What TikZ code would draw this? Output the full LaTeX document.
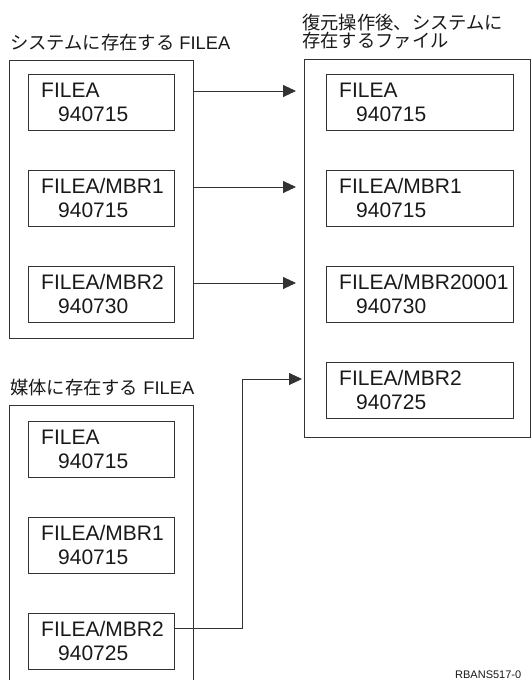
\documentclass[tikz,border=0pt]{standalone}
\usepackage{fontspec}
\setmainfont{Liberation Sans}
\newfontfamily\jp{Noto Sans CJK JP}
\usetikzlibrary{arrows.meta}
\tikzset{
  ln/.style={draw=black!80, line width=0.9pt},
  outerbox/.style={ln, rectangle, anchor=north west, inner sep=0pt},
  filebox/.style={ln, rectangle, anchor=north west, inner sep=0pt, minimum height=56pt},
  lbox/.style={filebox, minimum width=146pt},
  rbox/.style={filebox, minimum width=187pt},
  ftext/.style={anchor=base west, inner sep=0pt, font=\fontsize{21pt}{24pt}\selectfont, text=black!90},
  lbl/.style={anchor=base west, inner sep=0pt, font=\fontsize{18.3pt}{22pt}\selectfont, text=black!90},
  arr/.style={ln, -{Triangle[length=13pt,width=12pt]}},
}
\begin{document}
\begin{tikzpicture}[x=1pt,y=-1pt]
\useasboundingbox (0,0) rectangle (531,680);
\clip (0,0) rectangle (531,680);
% labels
\node[lbl] (lab1) at (10,49.5) {{\jp システムに存在する} FILEA};
\node[lbl] (lab2a) at (302,29) {\jp 復元操作後、システムに};
\node[lbl] (lab2b) at (302,47) {\jp 存在するファイル};
\node[lbl] (lab3) at (10,394) {{\jp 媒体に存在する} FILEA};
% outer boxes
\node[outerbox, minimum width=184pt, minimum height=278pt] (sys) at (9,60) {};
\node[outerbox, minimum width=226pt, minimum height=378pt] (res) at (304,59) {};
\draw[ln] (9,700) -- (9,405) -- (193,405) -- (193,700);
% left system boxes
\node[lbox] (s1) at (28,74) {};
\node[lbox] (s2) at (28,170) {};
\node[lbox] (s3) at (28,266) {};
% right boxes
\node[rbox] (r1) at (326,74) {};
\node[rbox] (r2) at (326,170) {};
\node[rbox] (r3) at (326,266) {};
\node[rbox] (r4) at (326,362) {};
% media boxes
\node[lbox] (m1) at (28,421) {};
\node[lbox] (m2) at (28,517) {};
\node[lbox] (m3) at (28,613) {};
% texts
\foreach \b/\a/\c in {s1/FILEA/940715, s2/FILEA\slash MBR1/940715, s3/FILEA\slash MBR2/940730,
  r1/FILEA/940715, r2/FILEA\slash MBR1/940715, r3/FILEA\slash MBR20001/940730, r4/FILEA\slash MBR2/940725,
  m1/FILEA/940715, m2/FILEA\slash MBR1/940715, m3/FILEA\slash MBR2/940725}{
  \node[ftext] (\b a) at ([xshift=13pt,yshift=-23pt]\b.north west) {\a};
  \node[ftext] (\b b) at ([xshift=30pt,yshift=-47pt]\b.north west) {\c};
}
% connectors
\coordinate (a1s) at (193,91);  \coordinate (a1e) at (296,91);
\coordinate (a2s) at (193,187); \coordinate (a2e) at (296,187);
\coordinate (a3s) at (193,283); \coordinate (a3e) at (296,283);
\draw[arr] (a1s) -- (a1e);
\draw[arr] (a2s) -- (a2e);
\draw[arr] (a3s) -- (a3e);
\coordinate (a4s) at (174,628);
\coordinate (a4m) at (242,628);
\coordinate (a4e) at (302,379);
\draw[arr] (a4s) -- (a4m) |- (a4e);
% figure id
\node[anchor=base west, inner sep=0pt, font=\fontsize{11pt}{13pt}\selectfont, text=black!90] (fid) at (455,678) {RBANS517-0};
\end{tikzpicture}
\end{document}
